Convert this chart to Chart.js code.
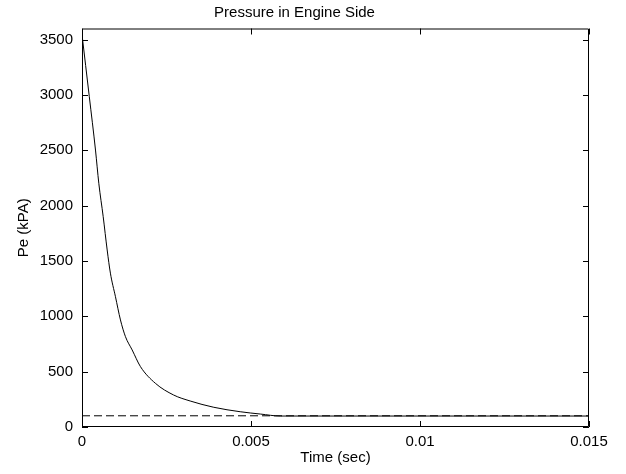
<!DOCTYPE html>
<html lang="en">
<head>
  <meta charset="UTF-8" />
  <title>Pressure in Engine Side</title>
  <script src="https://cdn.jsdelivr.net/npm/chart.js"></script>
  <style>
    body {
      margin: 0;
      padding: 0;
      background-color: #fff;
    }

    .chart-container {
      width: 626px;
      height: 474px;
      position: relative;
    }
  </style>
</head>
<body>
  <div class="chart-container">
    <canvas id="pressureChart"></canvas>
  </div>

  <script>
    // values
    const timeSec = [0, 0.000216, 0.000399, 0.000497, 0.000627, 0.000745, 0.00084, 0.00099,
      0.001138, 0.001286, 0.001484, 0.00173, 0.00217, 0.00271, 0.0032, 0.0039, 0.00468, 0.00528, 0.00587, 0.015];
    const pressureKPa = [3545, 2984, 2502, 2202, 1900, 1599, 1390, 1177,
      967, 816, 696, 545, 395, 289, 235, 178, 138, 117, 99, 99];
    const refTime = [0, 0.015];
    const refPressure = [101.3, 101.3];

    const xTicks = [0, 0.005, 0.01, 0.015];
    const xTickLabels = ['0', '0.005', '0.01', '0.015'];
    const yTicks = [0, 500, 1000, 1500, 2000, 2500, 3000, 3500];

    const fontFamily = '"Liberation Sans", Arial, Helvetica, sans-serif';

    // matlab style box with inward ticks on all four sides
    const framePlugin = {
      id: 'frame',
      afterDatasetsDraw(chart) {
        const { ctx, chartArea: a, scales: { x, y } } = chart;
        const len = 6;
        ctx.save();
        ctx.strokeStyle = '#000';
        ctx.lineWidth = 1;
        ctx.beginPath();
        ctx.rect(a.left + 0.5, a.top + 0.5, a.right - a.left - 1, a.bottom - a.top - 1);
        x.ticks.forEach(t => {
          const px = Math.round(x.getPixelForValue(t.value)) + 0.5;
          ctx.moveTo(px, a.bottom);
          ctx.lineTo(px, a.bottom - len);
          ctx.moveTo(px, a.top);
          ctx.lineTo(px, a.top + len);
        });
        y.ticks.forEach(t => {
          const py = Math.round(y.getPixelForValue(t.value)) + 0.5;
          ctx.moveTo(a.left, py);
          ctx.lineTo(a.left + len, py);
          ctx.moveTo(a.right, py);
          ctx.lineTo(a.right - len, py);
        });
        ctx.stroke();
        ctx.restore();
      }
    };

    const ctx = document.getElementById('pressureChart').getContext('2d');
    const chart = new Chart(ctx, {
      type: 'line',
      data: {
        datasets: [
          {
            label: 'Pe',
            data: timeSec.map((t, i) => ({ x: t, y: pressureKPa[i] })),
            borderColor: '#000',
            borderWidth: 1,
            pointRadius: 0,
            cubicInterpolationMode: 'monotone',
            fill: false
          },
          {
            label: 'Patm',
            data: refTime.map((t, i) => ({ x: t, y: refPressure[i] })),
            borderColor: '#000',
            borderWidth: 1,
            borderDash: [8, 4],
            pointRadius: 0,
            fill: false
          }
        ]
      },
      options: {
        responsive: true,
        maintainAspectRatio: false,
        animation: false,
        layout: {
          padding: { left: 0, right: 37, top: 0, bottom: 0 }
        },
        scales: {
          x: {
            type: 'linear',
            min: 0,
            max: 0.015,
            afterBuildTicks: (scale) => {
              scale.ticks = xTicks.map(v => ({ value: v }));
            },
            afterFit: (scale) => {
              scale.height = 47;
            },
            grid: { display: false, drawTicks: false },
            border: { display: false },
            ticks: {
              color: '#000',
              padding: 6,
              maxRotation: 0,
              font: { family: fontFamily, size: 15 },
              callback: (value) => {
                const i = xTicks.indexOf(value);
                return i >= 0 ? xTickLabels[i] : '';
              }
            },
            title: {
              display: true,
              text: 'Time (sec)',
              color: '#000',
              padding: { top: 0, bottom: 7 },
              font: { family: fontFamily, size: 15 }
            }
          },
          y: {
            type: 'linear',
            min: 0,
            max: 3600,
            afterBuildTicks: (scale) => {
              scale.ticks = yTicks.map(v => ({ value: v }));
            },
            afterFit: (scale) => {
              scale.width = 82;
            },
            grid: { display: false, drawTicks: false },
            border: { display: false },
            ticks: {
              color: '#000',
              padding: 9,
              font: { family: fontFamily, size: 15 },
              callback: (value) => String(value)
            },
            title: {
              display: true,
              text: 'Pe (kPA)',
              color: '#000',
              padding: { top: 15, bottom: 0 },
              font: { family: fontFamily, size: 15 }
            }
          }
        },
        plugins: {
          legend: { display: false },
          tooltip: { enabled: false },
          title: {
            display: true,
            text: 'Pressure in Engine Side',
            color: '#000',
            padding: { top: 4, bottom: 6.5 },
            font: { family: fontFamily, size: 15, weight: 'normal' }
          }
        }
      },
      plugins: [framePlugin]
    });
  </script>
</body>
</html>
